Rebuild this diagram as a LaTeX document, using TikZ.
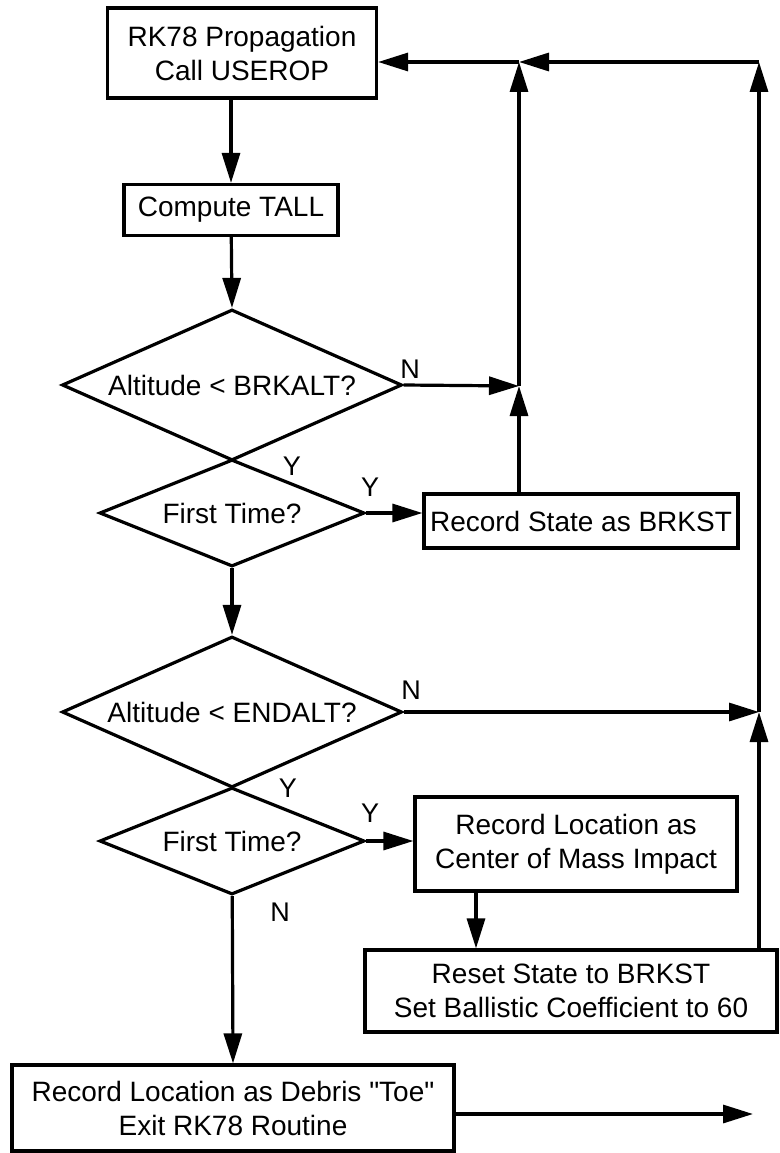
\documentclass[tikz,border=0pt]{standalone}
\usepackage{fontspec}
\setmainfont{Liberation Sans}
\usepackage{tikz}
\usetikzlibrary{positioning}
\usetikzlibrary{arrows.meta}
\usetikzlibrary{shapes.geometric}

\begin{document}
\begin{tikzpicture}[x=1pt,y=-1pt]
    \tikzset{Process/.style={rectangle, draw, line width=3.2pt, text centered, align=center, inner sep=2pt, font=\fontsize{28}{34}\selectfont}};
    \tikzset{Decision/.style={diamond, draw, line width=3.2pt, inner sep=0pt, aspect=2.3, font=\fontsize{28}{34}\selectfont}};
    \tikzset{Flow/.style={line width=3.2pt, -{Triangle[length=30pt,width=18pt]}}};
    \tikzset{Answer/.style={inner sep=0pt, font=\fontsize{27}{30}\selectfont}};
    \useasboundingbox (0,0) rectangle (779,1153);
    % boxes and decisions
    \node[Process, minimum width=269pt, minimum height=90pt] (a) at (242,53) {RK78 Propagation\\Call USEROP};
    \node[Process, minimum width=214pt, minimum height=51pt] (b) at (231,210) {Compute TALL};
    \node[Decision, minimum width=340pt, minimum height=151pt] (c) at (232,385) {Altitude < BRKALT?};
    \node[Decision, minimum width=265pt, minimum height=107pt] (d) at (232,513) {First Time?};
    \node[Process, minimum width=314pt, minimum height=54pt] (e) at (581,521) {Record State as BRKST};
    \node[Decision, minimum width=340pt, minimum height=151pt] (f) at (232,712) {Altitude < ENDALT?};
    \node[Decision, minimum width=265pt, minimum height=107pt] (g) at (232,841) {First Time?};
    \node[Process, minimum width=322pt, minimum height=94pt] (h) at (576,844) {Record Location as\\Center of Mass Impact};
    \node[Process, minimum width=412pt, minimum height=82pt] (i) at (571,991) {Reset State to BRKST\\Set Ballistic Coefficient to 60};
    \node[Process, minimum width=442pt, minimum height=86pt] (j) at (233,1108) {Record Location as Debris \textquotedbl Toe\textquotedbl\\Exit RK78 Routine};
    % junctions
    \coordinate (ja) at (519,62);
    \coordinate (jb) at (519,386);
    \coordinate (jc) at (759,62);
    \coordinate (jd) at (759,712);
    \coordinate (out) at (753,1114);
    % answers
    \node[Answer] (n1) at (410,369) {N};
    \node[Answer] (y1) at (292,466) {Y};
    \node[Answer] (y2) at (370,487) {Y};
    \node[Answer] (n2) at (411,690) {N};
    \node[Answer] (y3) at (288,788) {Y};
    \node[Answer] (y4) at (370,813) {Y};
    \node[Answer] (n3) at (280,912) {N};
    % flow
    \draw[Flow] (a.south -| b.north) -- (b.north);
    \draw[Flow] (b) -- (c.north);
    \draw[Flow] (d) -- (f.north);
    \draw[Flow] (g) -- (j.north);
    \draw[Flow] (c.east) -- (jb);
    \draw[Flow] (d.east) -- (d.east -| e.west);
    \draw[Flow] (e.north -| jb) -- (jb);
    \draw[Flow] (jb) -- (ja);
    \draw[Flow] (jc) -- (ja);
    \draw[Flow] (ja) -- (ja -| a.east);
    \draw[Flow] (f.east) -- (jd);
    \draw[Flow] (g.east) -- (g.east -| h.west);
    \draw[Flow] ([xshift=-100pt]h.south) -- ([xshift=-100pt]h.south |- i.north);
    \draw[Flow] (i.north -| jd) -- (jd);
    \draw[Flow] (jd) -- (jc);
    \draw[Flow] (j.east |- out) -- (out);
\end{tikzpicture}
\end{document}
